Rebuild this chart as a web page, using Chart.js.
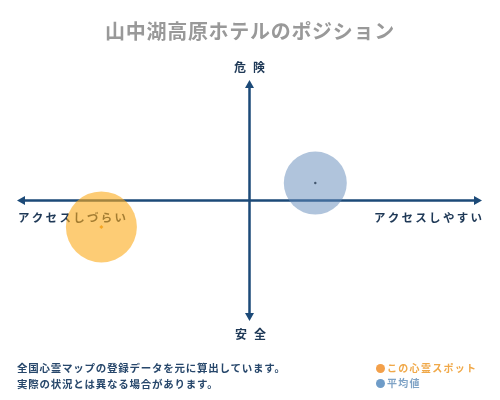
<!DOCTYPE html>
<html>
<head>
<meta charset="utf-8">
<script src="https://cdn.jsdelivr.net/npm/chart.js@4.4.1/dist/chart.umd.min.js"></script>
<style>
    body { margin: 0; background: #fff; font-family: "Noto Sans CJK JP", sans-serif; }
    #wrap { position: relative; width: 500px; height: 400px; overflow: hidden; }
    #positionChart { position: absolute; left: 0; top: 0; }
    .txt { position: absolute; white-space: nowrap; font-weight: bold; }
    #title { left: 0; width: 500px; top: 18px; text-align: center; font-size: 20px; line-height: 26px; color: #999; letter-spacing: 0.7px; }
    #note { left: 17px; top: 360px; font-size: 10.5px; line-height: 15.5px; color: #27476b; letter-spacing: 0.75px; }
    #legend { left: 376px; top: 360px; font-size: 10px; line-height: 15px; letter-spacing: 1.3px; }
    #legend span.dot { display: inline-block; width: 9px; height: 9px; border-radius: 50%; margin-right: 2px; vertical-align: -1px; }
</style>
</head>
<body>
<div id="wrap">
    <canvas id="positionChart" width="500" height="400"></canvas>
    <div class="txt" id="title"></div>
    <div class="txt" id="note"></div>
    <div class="txt" id="legend"></div>
</div>
<script>
    var chartTitle = '山中湖高原ホテルのポジション';
    var axisTop = '危険';
    var axisBottom = '安全';
    var axisLeft = 'アクセスしづらい';
    var axisRight = 'アクセスしやすい';
    var noteLines = ['全国心霊マップの登録データを元に算出しています。', '実際の状況とは異なる場合があります。'];

    var seriesNames = ['この心霊スポット', '平均値'];
    var accessValues = [-6.37, 2.83];   // x: アクセスしづらい(-) ~ しやすい(+)
    var dangerValues = [-2.19, 1.45];   // y: 安全(-) ~ 危険(+)
    var bubbleSizes = [35.5, 31.5];

    var fillColors = ['rgba(252, 170, 25, 0.6)', 'rgba(97, 137, 185, 0.5)'];
    var dotColors = ['#f0a030', '#222'];
    var legendColors = ['#f0a848', '#7fa3c6'];
    var dotLegendColors = ['#f3a04a', '#6f9cc8'];
    var axisColor = '#1c4a78';
    var labelColor = '#1e3856';

    document.getElementById('title').textContent = chartTitle;
    document.getElementById('note').innerHTML = noteLines.join('<br>');
    document.getElementById('legend').innerHTML = seriesNames.map(function (n, i) {
        return '<div style="color:' + legendColors[i] + '"><span class="dot" style="background:' + dotLegendColors[i] + '"></span>' + n + '</div>';
    }).join('');

    var datasets = [];
    seriesNames.forEach(function (name, i) {
        datasets.push({
            label: name,
            data: [{ x: accessValues[i], y: dangerValues[i], r: bubbleSizes[i] }],
            backgroundColor: fillColors[i],
            borderWidth: 0,
            hoverRadius: 0
        });
    });
    seriesNames.forEach(function (name, i) {
        datasets.push({
            label: name + ' center',
            data: [{ x: accessValues[i], y: dangerValues[i], r: i === 0 ? 2 : 1.2 }],
            backgroundColor: dotColors[i],
            pointStyle: i === 0 ? 'rectRot' : 'circle',
            borderWidth: 0
        });
    });

    function spacedText(ctx, text, x, y, spacing, align) {
        ctx.letterSpacing = spacing + 'px';
        var w = ctx.measureText(text).width - spacing;
        var left = align === 'center' ? x - w / 2 : (align === 'right' ? x - w : x);
        ctx.textAlign = 'left';
        ctx.fillText(text, left, y);
        ctx.letterSpacing = '0px';
    }

    var axisPlugin = {
        id: 'axisArrows',
        beforeDatasetsDraw: function (chart) {
            var ctx = chart.ctx, sx = chart.scales.x, sy = chart.scales.y;
            var x0 = sx.getPixelForValue(0), y0 = sy.getPixelForValue(0);
            var l = sx.getPixelForValue(sx.min), r = sx.getPixelForValue(sx.max);
            var t = sy.getPixelForValue(sy.max), b = sy.getPixelForValue(sy.min);
            var ah = 8, aw = 4.5;
            ctx.save();
            ctx.strokeStyle = axisColor;
            ctx.fillStyle = axisColor;
            ctx.lineWidth = 2.5;
            ctx.beginPath();
            ctx.moveTo(l + ah - 1, y0); ctx.lineTo(r - ah + 1, y0);
            ctx.moveTo(x0, t + ah - 1); ctx.lineTo(x0, b - ah + 1);
            ctx.stroke();
            ctx.beginPath();
            ctx.moveTo(l, y0); ctx.lineTo(l + ah, y0 - aw); ctx.lineTo(l + ah, y0 + aw); ctx.closePath();
            ctx.moveTo(r, y0); ctx.lineTo(r - ah, y0 - aw); ctx.lineTo(r - ah, y0 + aw); ctx.closePath();
            ctx.moveTo(x0, t); ctx.lineTo(x0 - aw, t + ah); ctx.lineTo(x0 + aw, t + ah); ctx.closePath();
            ctx.moveTo(x0, b); ctx.lineTo(x0 - aw, b - ah); ctx.lineTo(x0 + aw, b - ah); ctx.closePath();
            ctx.fill();

            ctx.fillStyle = labelColor;
            ctx.textBaseline = 'middle';
            ctx.font = 'bold 12px "Noto Sans CJK JP"';
            spacedText(ctx, axisTop, x0, t - 13, 7, 'center');
            spacedText(ctx, axisBottom, x0 + 1, b + 13, 7, 'center');
            ctx.font = 'bold 11.5px "Noto Sans CJK JP"';
            spacedText(ctx, axisLeft, l + 1, y0 + 17, 2.3, 'left');
            spacedText(ctx, axisRight, r, y0 + 17, 2.3, 'right');
            ctx.restore();
        }
    };

    var ctx = document.getElementById('positionChart').getContext('2d');
    var positionChart = new Chart(ctx, {
        type: 'bubble',
        data: { datasets: datasets },
        options: {
            responsive: false,
            animation: false,
            layout: { autoPadding: false, padding: { left: 17, right: 18, top: 80, bottom: 79 } },
            scales: {
                x: { type: 'linear', min: -10, max: 10, display: false },
                y: { type: 'linear', min: -10, max: 10, display: false }
            },
            plugins: {
                legend: { display: false },
                tooltip: { enabled: false }
            },
            clip: false
        },
        plugins: [axisPlugin]
    });
</script>
</body>
</html>
